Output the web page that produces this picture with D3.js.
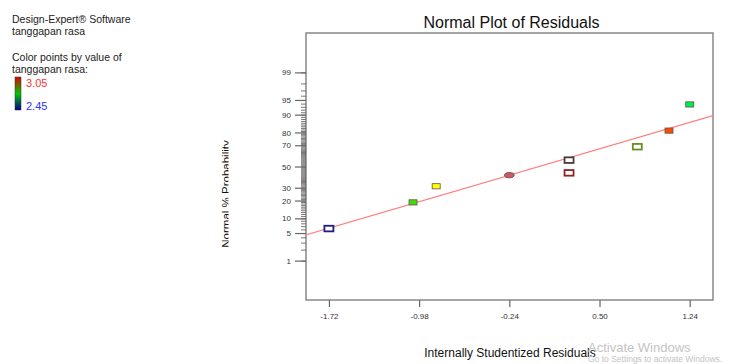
<!DOCTYPE html>
<html><head><meta charset="utf-8">
<script src="https://cdn.jsdelivr.net/npm/d3@7"></script>
<style>body{margin:0;background:#fff}svg{display:block;font-family:Arial,"Liberation Sans",sans-serif}</style>
</head><body>
<svg id="c" width="736" height="364"></svg>
<script>
// ---- data ----
const residuals   = [-1.72, -1.03, -0.84, -0.24, 0.25, 0.25, 0.81, 1.07, 1.24];
const probability = [6.25, 18.75, 31.25, 41.5, 56.25, 43.75, 68.75, 81.25, 93.75];
const pointColor  = ["#1e1e80","#44dd00","#ffff00","#c06060","#4a3a3a","#8b2424","#6b8e23","#ff4a00","#00ee4a"];
const pointFilled = [false,true,true,true,false,false,false,true,true];
const pointShape  = ["rect","rect","rect","ellipse","rect","rect","rect","rect","rect"];
const fitX    = [-1.91, 1.43];
const fitProb = [4.56, 89.56];
const xTicks  = [-1.72, -0.98, -0.24, 0.50, 1.24];
const yMajor  = [1, 5, 10, 20, 30, 50, 70, 80, 90, 95, 99];
const yMinor  = d3.range(1, 100);
const legendMax = "3.05", legendMin = "2.45";

// inverse normal CDF (Acklam)
function probit(p){
  const a=[-3.969683028665376e+01,2.209460984245205e+02,-2.759285104469687e+02,1.383577518672690e+02,-3.066479806614716e+01,2.506628277459239e+00];
  const b=[-5.447609879822406e+01,1.615858368580409e+02,-1.556989798598866e+02,6.680131188771972e+01,-1.328068155288572e+01];
  const c=[-7.784894002430293e-03,-3.223964580411365e-01,-2.400758277161838e+00,-2.549732539343734e+00,4.374664141464968e+00,2.938163982698783e+00];
  const d=[7.784695709041462e-03,3.224671290700398e-01,2.445134137142996e+00,3.754408661907416e+00];
  const pl=0.02425, ph=1-pl; let q,r;
  if(p<pl){q=Math.sqrt(-2*Math.log(p));return (((((c[0]*q+c[1])*q+c[2])*q+c[3])*q+c[4])*q+c[5])/((((d[0]*q+d[1])*q+d[2])*q+d[3])*q+1);}
  if(p<=ph){q=p-0.5;r=q*q;return (((((a[0]*r+a[1])*r+a[2])*r+a[3])*r+a[4])*r+a[5])*q/(((((b[0]*r+b[1])*r+b[2])*r+b[3])*r+b[4])*r+1);}
  q=Math.sqrt(-2*Math.log(1-p));return -(((((c[0]*q+c[1])*q+c[2])*q+c[3])*q+c[4])*q+c[5])/((((d[0]*q+d[1])*q+d[2])*q+d[3])*q+1);
}

const svg = d3.select("#c");
const L=306, R=713, T=33, B=300;
const x = d3.scaleLinear().domain([-1.908, 1.431]).range([L, R]);
const yz = d3.scaleLinear().domain([-3.3, 3.3]).range([B, T]);
const y = p => yz(probit(p/100));

// left legend text
const lg = svg.append("g").attr("font-size", 10.5).attr("fill", "#222");
lg.append("text").attr("x", 12).attr("y", 23).text("Design-Expert® Software");
lg.append("text").attr("x", 12).attr("y", 35).text("tanggapan rasa");
lg.append("text").attr("x", 12).attr("y", 61).text("Color points by value of");
lg.append("text").attr("x", 12).attr("y", 73).text("tanggapan rasa:");
const defs = svg.append("defs");
const gr = defs.append("linearGradient").attr("id","cb").attr("x1",0).attr("x2",0).attr("y1",0).attr("y2",1);
gr.append("stop").attr("offset","0%").attr("stop-color","#e00000");
gr.append("stop").attr("offset","50%").attr("stop-color","#00c800");
gr.append("stop").attr("offset","100%").attr("stop-color","#000090");
svg.append("rect").attr("x",15).attr("y",77).attr("width",6).attr("height",33).attr("fill","url(#cb)").attr("stroke","#333").attr("stroke-width",0.5);
svg.append("text").attr("x",26).attr("y",87).attr("font-size",11).attr("fill","#ff3030").text(legendMax);
svg.append("text").attr("x",26).attr("y",110).attr("font-size",11).attr("fill","#3030ff").text(legendMin);

// title
svg.append("text").attr("x",(L+R)/2+2).attr("y",28).attr("text-anchor","middle").attr("font-size",16).attr("fill","#111").text("Normal Plot of Residuals");

// frame
svg.append("rect").attr("x",L).attr("y",T).attr("width",R-L).attr("height",B-T).attr("fill","none").attr("stroke","#888").attr("stroke-width",1.5);

// y axis minor
const yMinG = svg.append("g").attr("transform",`translate(${L},0)`)
  .call(d3.axisLeft(yz).tickValues(yMinor.map(p=>probit(p/100))).tickSize(5).tickFormat(""));
yMinG.select(".domain").remove();
yMinG.selectAll("line").attr("stroke","#555").attr("stroke-width",0.8);
// y axis major
const yMajG = svg.append("g").attr("transform",`translate(${L},0)`)
  .call(d3.axisLeft(yz).tickValues(yMajor.map(p=>probit(p/100))).tickSize(11).tickPadding(4)
    .tickFormat((d,i)=>yMajor[i]));
yMajG.select(".domain").remove();
yMajG.selectAll("line").attr("stroke","#666").attr("stroke-width",1.2);
yMajG.selectAll("text").attr("font-size",8).attr("fill","#333").attr("font-family","Arial,'Liberation Sans',sans-serif");

// x axis
const xG = svg.append("g").attr("transform",`translate(0,${B})`)
  .call(d3.axisBottom(x).tickValues(xTicks).tickSize(7).tickPadding(6).tickFormat(d=>d.toFixed(2)));
xG.select(".domain").remove();
xG.selectAll("line").attr("stroke","#666").attr("stroke-width",1.2);
xG.selectAll("text").attr("font-size",8).attr("fill","#333").attr("font-family","Arial,'Liberation Sans',sans-serif");

// axis titles
svg.append("text").attr("x",510).attr("y",357).attr("text-anchor","middle").attr("font-size",12).attr("fill","#111").text("Internally Studentized Residuals");
defs.append("clipPath").attr("id","ylc").append("rect").attr("x",200).attr("y",100).attr("width",28.5).attr("height",180);
svg.append("g").attr("clip-path","url(#ylc)")
  .append("text").attr("transform","translate(230,194) rotate(-90)").attr("text-anchor","middle")
  .attr("font-size",11.5).attr("fill","#111").text("Normal % Probability");

// fit line
defs.append("clipPath").attr("id","pc").append("rect").attr("x",L).attr("y",T).attr("width",R-L).attr("height",B-T);
svg.append("line").attr("clip-path","url(#pc)")
  .attr("x1",x(fitX[0])).attr("y1",y(fitProb[0])).attr("x2",x(fitX[1])).attr("y2",y(fitProb[1]))
  .attr("stroke","#ff8080").attr("stroke-width",1.2);

// points
const pts = residuals.map((r,i)=>({r,p:probability[i],c:pointColor[i],f:pointFilled[i],s:pointShape[i]}));
const g = svg.append("g");
pts.forEach(d=>{
  const cx=x(d.r), cy=y(d.p);
  if(d.s==="ellipse"){
    g.append("ellipse").attr("cx",cx).attr("cy",cy).attr("rx",4.8).attr("ry",2.6)
     .attr("fill",d.c).attr("stroke","#8a4a4a").attr("stroke-width",1);
  } else if(d.f){
    g.append("rect").attr("x",cx-4).attr("y",cy-2.6).attr("width",8).attr("height",5.2)
     .attr("fill",d.c).attr("stroke","#555").attr("stroke-width",0.8);
  } else {
    g.append("rect").attr("x",cx-4.5).attr("y",cy-2.8).attr("width",9).attr("height",5.6)
     .attr("fill","#fff").attr("stroke",d.c).attr("stroke-width",1.8);
  }
});

// screen watermark from reference
svg.append("text").attr("x",588).attr("y",352).attr("font-size",13).attr("fill","#c4c4c4").text("Activate Windows");
svg.append("text").attr("x",588).attr("y",362).attr("font-size",8.5).attr("fill","#c4c4c4").text("Go to Settings to activate Windows.");
</script>
</body></html>
